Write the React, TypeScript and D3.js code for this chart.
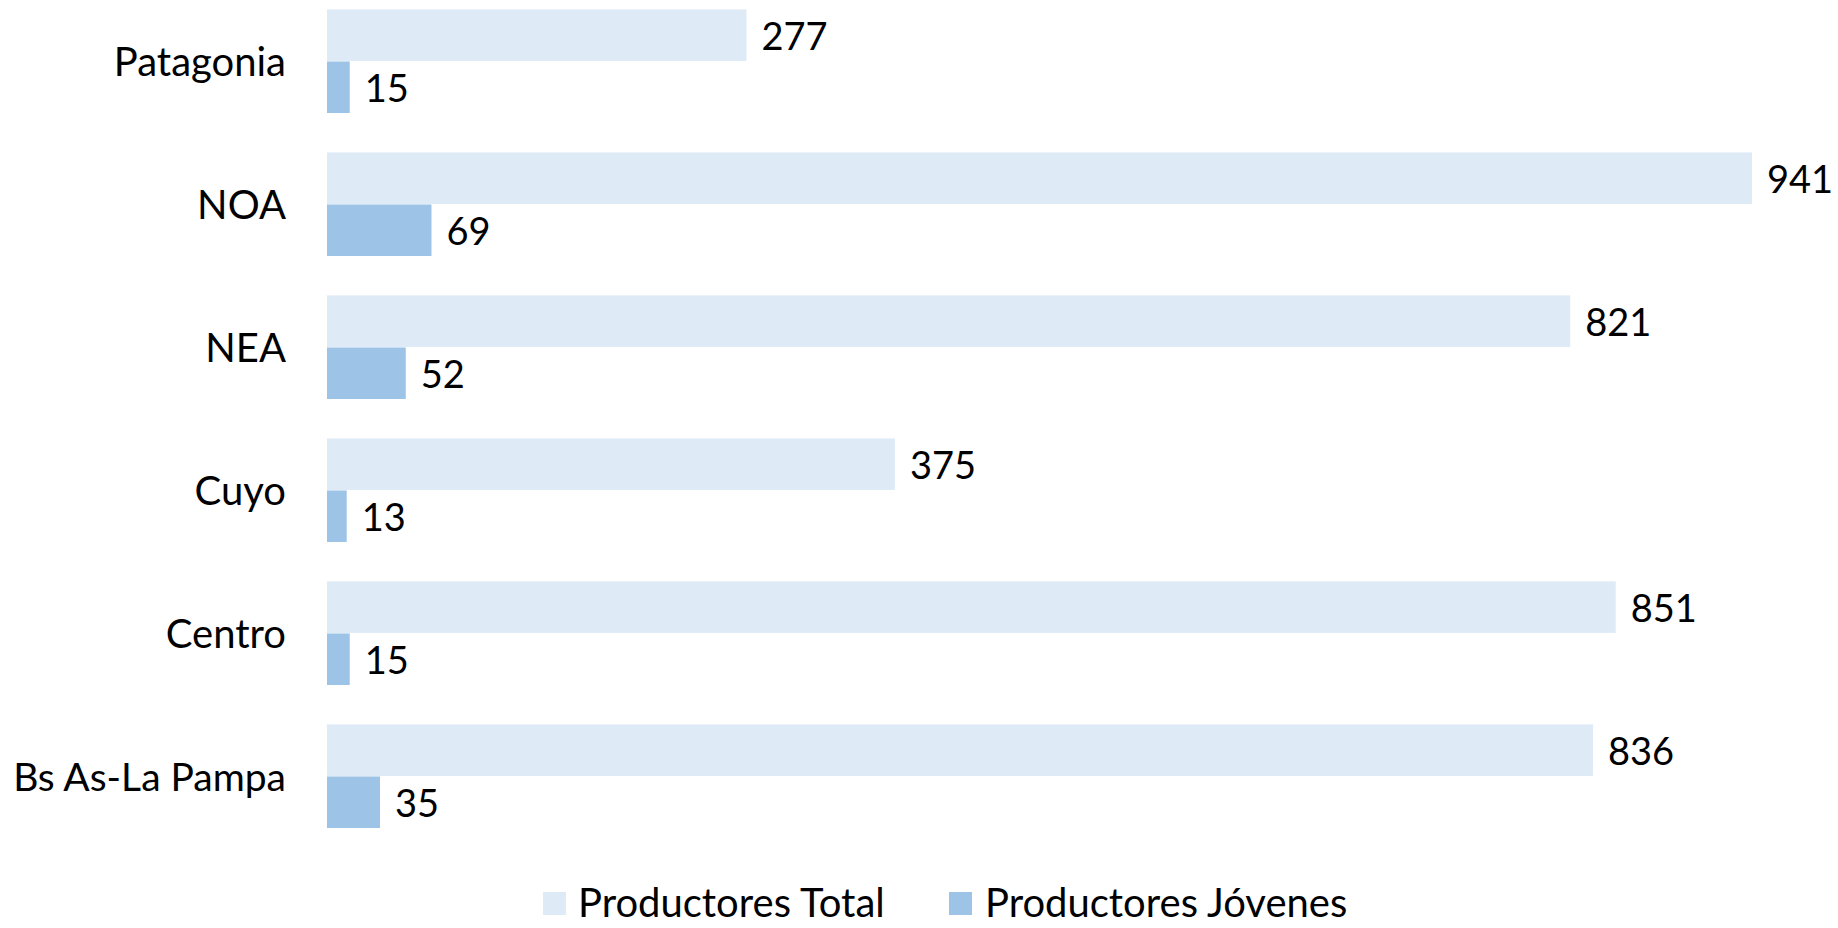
import React, { useEffect } from "react";
import * as d3 from "d3";

const categories = ["Patagonia", "NOA", "NEA", "Cuyo", "Centro", "Bs As-La Pampa"];
const totalValues = [277, 941, 821, 375, 851, 836];
const youngValues = [15, 69, 52, 13, 15, 35];
const seriesNames = ["Productores Total", "Productores Jóvenes"];
const seriesColors = ["#DEEAF6", "#9DC3E6"];

const W = 1838;
const H = 928;
const FONT = "Lato, 'Open Sans', sans-serif";
const FS_NUM = 38;
const FS_TXT = 40;

export default function App() {
  useEffect(() => {
    document.body.style.margin = "0";
  }, []);

  const x = d3.scaleLinear().domain([0, 941]).range([327, 1752]);
  const y = d3.scaleBand<string>().domain(categories).range([-10.3, 847.7]).paddingInner(0.2755).paddingOuter(0.1378);
  const inner = d3.scaleBand<string>().domain(["total", "young"]).range([0, y.bandwidth()]).paddingInner(0.01);

  const series = [
    { key: "total", values: totalValues, color: seriesColors[0] },
    { key: "young", values: youngValues, color: seriesColors[1] },
  ];

  return (
    <svg width={W} height={H} style={{ display: "block", background: "#fff" }} fontFamily={FONT}>
      {categories.map((c, i) => {
        const y0 = y(c)!;
        return (
          <g key={c}>
            <text x={286} y={y0 + y.bandwidth() / 2} textAnchor="end" dominantBaseline="central" fontSize={c.length > 10 ? 39 : FS_TXT} fill="#000">
              {c}
            </text>
            {series.map((s) => {
              const by = y0 + inner(s.key)!;
              const v = s.values[i];
              return (
                <g key={s.key}>
                  <rect x={x(0)} y={by} width={x(v) - x(0)} height={inner.bandwidth()} fill={s.color} />
                  <text x={x(v) + 15} y={by + inner.bandwidth() / 2} dominantBaseline="central" fontSize={FS_NUM} fill="#000">
                    {v}
                  </text>
                </g>
              );
            })}
          </g>
        );
      })}
      <g>
        <rect x={543} y={892} width={23} height={23} fill={seriesColors[0]} />
        <text x={578} y={902} dominantBaseline="central" fontSize={FS_TXT} fill="#000">{seriesNames[0]}</text>
        <rect x={949} y={892} width={23} height={23} fill={seriesColors[1]} />
        <text x={985} y={902} dominantBaseline="central" fontSize={FS_TXT} fill="#000">{seriesNames[1]}</text>
      </g>
    </svg>
  );
}
